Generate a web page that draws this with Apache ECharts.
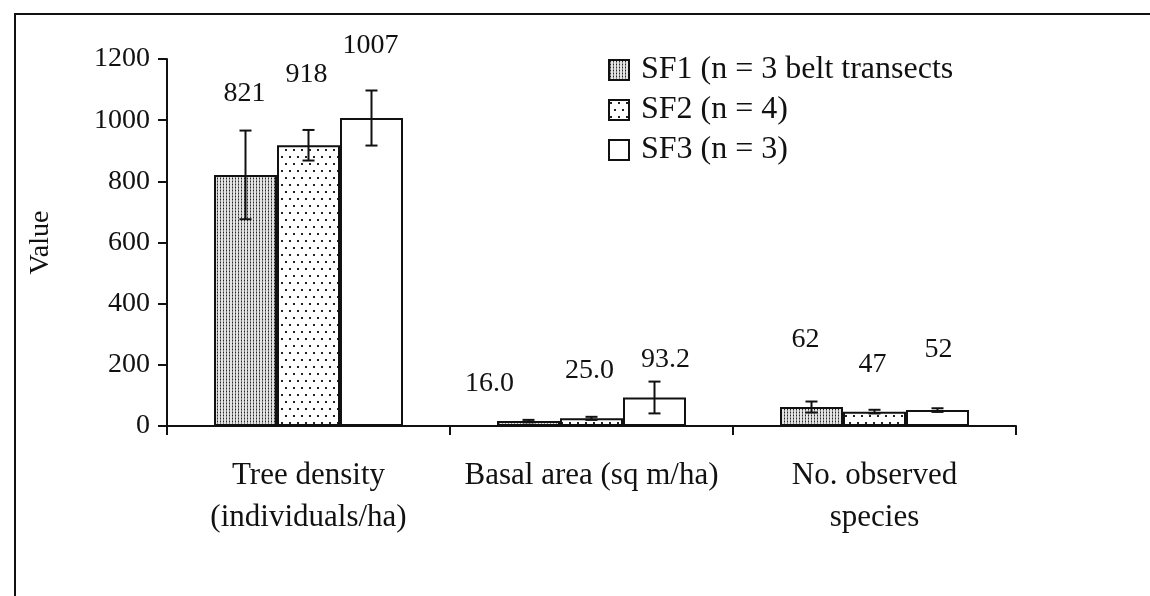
<!DOCTYPE html>
<html>
<head>
<meta charset="utf-8">
<script src="https://cdn.jsdelivr.net/npm/echarts@6/dist/echarts.min.js"></script>
<style>
  html, body { margin: 0; padding: 0; background: #fff; }
  #chart { width: 1150px; height: 596px; }
</style>
</head>
<body>
<div id="chart"></div>
<script>
// data
const categories = ['Tree density\n(individuals/ha)', 'Basal area (sq m/ha)', 'No. observed\nspecies']
const seriesNames = ['SF1 (n = 3 belt transects', 'SF2 (n = 4)', 'SF3 (n = 3)']
const sf1Values = [821, 16.0, 62]
const sf2Values = [918, 25.0, 47]
const sf3Values = [1007, 93.2, 52]
const sf1Errors = [145, 4, 18]
const sf2Errors = [50, 5, 6]
const sf3Errors = [90, 52, 6]
const sf1Labels = ['821', '16.0', '62']
const sf2Labels = ['918', '25.0', '47']
const sf3Labels = ['1007', '93.2', '52']
const yMin = 0
const yMax = 1200
const yInterval = 200

const FONT = 'Liberation Serif'
const BAR_W = 63

// where the printed numbers sit relative to the bar top (pixels)
const labelOffsets = [
  [[-1, -67], [-39, -23], [-6, -53]],
  [[-2, -57], [-2, -34], [-2, -33]],
  [[-1, -58], [11, -24], [1, -46]]
]

function makePattern (w, h, draw) {
  const c = document.createElement('canvas')
  c.width = w
  c.height = h
  const ctx = c.getContext('2d')
  draw(ctx)
  return { image: c, repeat: 'repeat' }
}

// fine stipple for SF1
const densePattern = makePattern(3, 3, function (ctx) {
  ctx.fillStyle = '#e4e4e4'
  ctx.fillRect(0, 0, 3, 3)
  ctx.fillStyle = '#8a8a8a'
  ctx.fillRect(1, 0, 1, 3)
  ctx.fillStyle = '#222'
  ctx.fillRect(1, 1, 1, 1)
})
// sparse dots for SF2
const sparsePattern = makePattern(8, 14, function (ctx) {
  ctx.fillStyle = '#fff'
  ctx.fillRect(0, 0, 8, 14)
  ctx.fillStyle = '#222'
  ctx.fillRect(1, 2, 2, 2)
  ctx.fillRect(5, 9, 2, 2)
})

const allValues = [sf1Values, sf2Values, sf3Values]
const allErrors = [sf1Errors, sf2Errors, sf3Errors]
const allLabels = [sf1Labels, sf2Labels, sf3Labels]
const fills = [densePattern, sparsePattern, '#fff']

const chart = echarts.init(document.getElementById('chart'))

const barSeries = allValues.map(function (vals, s) {
  return {
    name: seriesNames[s],
    type: 'bar',
    barWidth: BAR_W,
    barGap: '0%',
    itemStyle: { color: fills[s], borderColor: '#111', borderWidth: 2 },
    label: { show: false },
    z: 2,
    data: vals.map(function (v, i) {
      return {
        value: v,
        label: {
          show: true,
          position: 'top',
          distance: 0,
          offset: labelOffsets[s][i],
          formatter: allLabels[s][i],
          fontFamily: FONT,
          fontSize: 28,
          color: '#111'
        }
      }
    })
  }
})

const errorSeries = allValues.map(function (vals, s) {
  const shift = (s - 1) * BAR_W
  return {
    type: 'custom',
    name: seriesNames[s] + ' err',
    z: 5,
    silent: true,
    renderItem: function (params, api) {
      const idx = api.value(0)
      const v = api.value(1)
      const e = api.value(2)
      const top = api.coord([idx, v + e])
      const bot = api.coord([idx, v - e])
      const x = top[0] + shift
      const st = { stroke: '#111', lineWidth: 2 }
      return {
        type: 'group',
        children: [
          { type: 'line', shape: { x1: x, y1: top[1], x2: x, y2: bot[1] }, style: st },
          { type: 'line', shape: { x1: x - 6, y1: top[1], x2: x + 6, y2: top[1] }, style: st },
          { type: 'line', shape: { x1: x - 6, y1: bot[1], x2: x + 6, y2: bot[1] }, style: st }
        ]
      }
    },
    data: vals.map(function (v, i) { return [i, v, allErrors[s][i]] })
  }
})

chart.setOption({
  backgroundColor: '#fff',
  animation: false,
  textStyle: { fontFamily: FONT, color: '#111' },
  grid: { left: 167, right: 134, top: 59, bottom: 170 },
  legend: {
    orient: 'vertical',
    left: 603,
    top: 49,
    itemWidth: 20,
    itemHeight: 20,
    itemGap: 8,
    data: seriesNames,
    itemStyle: { borderColor: '#111', borderWidth: 2 },
    textStyle: { fontFamily: FONT, fontSize: 32, color: '#111', padding: [0, 0, 0, 7] },
    icon: 'rect'
  },
  xAxis: {
    type: 'category',
    data: categories,
    axisLine: { lineStyle: { color: '#111', width: 2 } },
    axisTick: { show: true, length: 9, lineStyle: { color: '#111', width: 2 } },
    axisLabel: { fontFamily: FONT, fontSize: 31, color: '#111', lineHeight: 42, margin: 29, interval: 0 }
  },
  yAxis: {
    type: 'value',
    min: yMin,
    max: yMax,
    interval: yInterval,
    name: 'Value',
    nameLocation: 'middle',
    nameGap: 112,
    nameTextStyle: { fontFamily: FONT, fontSize: 28, color: '#111' },
    axisLine: { show: true, lineStyle: { color: '#111', width: 2 } },
    axisTick: { show: true, length: 9, lineStyle: { color: '#111', width: 2 } },
    axisLabel: {
      fontFamily: FONT,
      fontSize: 28,
      color: '#111',
      margin: 17,
      formatter: function (v) { return String(v) }
    },
    splitLine: { show: false }
  },
  graphic: [
    {
      type: 'polyline',
      silent: true,
      shape: { points: [[15, 596], [15, 14], [1150, 14]] },
      style: { stroke: '#111', lineWidth: 2, fill: null }
    }
  ],
  series: barSeries.concat(errorSeries)
})
</script>
</body>
</html>
